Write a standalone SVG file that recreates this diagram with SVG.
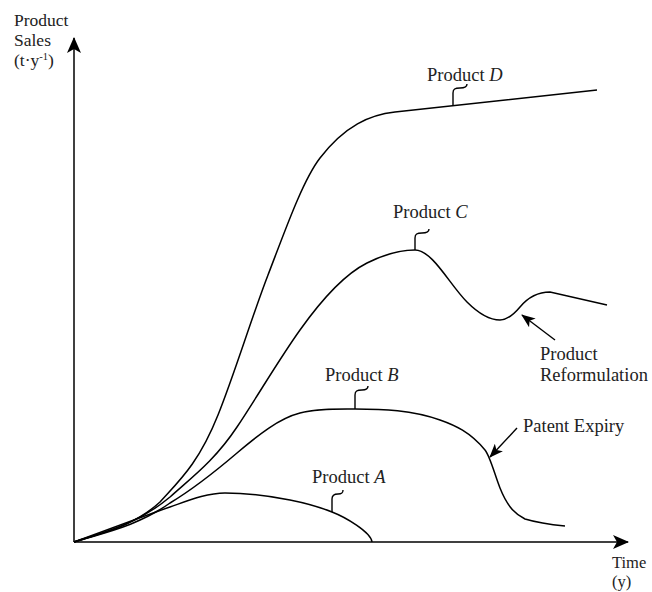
<svg xmlns="http://www.w3.org/2000/svg" width="652" height="592" viewBox="0 0 652 592">
<defs>
<marker id="ah" markerWidth="14" markerHeight="11" refX="13" refY="5.5" orient="auto" markerUnits="userSpaceOnUse" viewBox="0 0 14 11">
<path d="M0,0 L14,5.5 L0,11 L3.5,5.5 Z" fill="#000"/>
</marker>
<marker id="ax" markerWidth="16" markerHeight="14" refX="15" refY="7" orient="auto" markerUnits="userSpaceOnUse" viewBox="0 0 16 14">
<path d="M0,0 L16,7 L0,14 L4,7 Z" fill="#000"/>
</marker>
<style>
text{font-family:"Liberation Serif","Times New Roman",serif;font-size:18.5px;fill:#222}
.s{font-size:17.5px}
.u{font-size:16.5px}
.c{fill:none;stroke:#000;stroke-width:1.5}
.t{fill:none;stroke:#000;stroke-width:1.4}
</style>
</defs>
<rect width="652" height="592" fill="#fff"/>
<g id="axes">
<line x1="74" y1="542" x2="74" y2="38" class="c" marker-end="url(#ax)"/>
<line x1="74" y1="542" x2="628" y2="542" class="c" marker-end="url(#ax)"/>
<text class="s" x="14" y="26">Product</text>
<text class="s" x="14" y="46">Sales</text>
<text class="s" x="14" y="66">(t·y<tspan dy="-6" font-size="10.5">-1</tspan><tspan dy="6">)</tspan></text>
<text class="u" x="612" y="568">Time</text>
<text class="u" x="612" y="587">(y)</text>
</g>
<g id="productD">
<path class="c" d="M74,542 C104,532 134,526 160,502 C179.3,480.7 198.7,463.3 218,415 C234.7,373.3 251.3,318.4 268,275 C285.3,230 302.7,180.5 320,158 C345,125.5 370,114.7 395,112 L597,90"/>
<path class="t" d="M453,105 L453,93 C453,89 455,88 460,88 C465,88 467,87 467,84"/>
<text x="427" y="81">Product <tspan font-style="italic">D</tspan></text>
</g>
<g id="productC">
<path class="c" d="M74,542 C105.3,532.3 137.7,524 170,497 C192.3,476.9 214.7,460.5 237,427 C258,395.5 279,359.4 300,330 C322.3,298.7 344.7,274.2 367,263 C383,255 399,250 415,250 C432.3,250 449.7,284.7 467,302 C478,313 489,320 500,320 C506.7,320 513.3,315 520,307 C530,295 540,292 550,292 L607,305"/>
<path class="t" d="M415,250 L415,238 C415,234 417,233 422,233 C427,233 429,232 429,229"/>
<text x="393" y="218">Product <tspan font-style="italic">C</tspan></text>
</g>
<g id="productB">
<path class="c" d="M74,542 C105.3,532.3 137.7,526 170,503 C192.3,489.6 214.7,472 237,453 C258,435.1 279,418.3 300,413 C318.3,408.4 336.7,409 355,409 C383.3,409 411.7,410.1 440,420 C455,425.25 470,432 485,450 C490,456 495,475.5 500,488 C508.3,508.8 516.7,514.8 525,519 C538.3,523 551.7,524.7 565,526"/>
<path class="t" d="M355,409 L355,395 C355,391 357,390 362,390 C366,390 368,389 368,386"/>
<text x="325" y="381">Product <tspan font-style="italic">B</tspan></text>
</g>
<g id="productA">
<path class="c" d="M74,542 C105.3,530.7 137.7,518.3 170,507 C188.3,500.6 206.7,493 225,493 C246.7,493 268.3,495.7 290,500 C304,502.8 318,506.4 332,512 C345,517 371,532 372,542"/>
<path class="t" d="M332,512 L332,499 C332,495 334,494 338,494 C342,494 343,493 343,490"/>
<text x="312" y="483">Product <tspan font-style="italic">A</tspan></text>
</g>
<g id="reformulation">
<text x="540" y="360">Product</text>
<text x="540" y="381">Reformulation</text>
</g>
<g id="patent">
<text x="523" y="432">Patent Expiry</text>
</g>
<g id="connectors">
<line x1="555" y1="340" x2="522" y2="315" class="t" marker-end="url(#ah)"/>
<line x1="517" y1="428" x2="490" y2="457" class="t" marker-end="url(#ah)"/>
</g>
</svg>
